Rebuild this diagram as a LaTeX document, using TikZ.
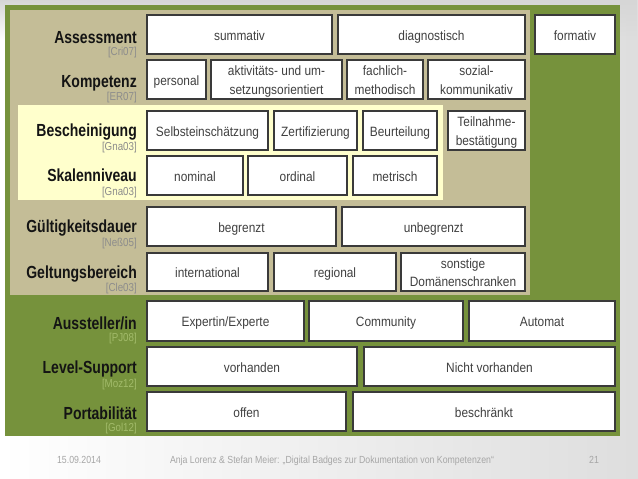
\documentclass[tikz,border=0pt]{standalone}
\usepackage{fontspec}
\usetikzlibrary{fadings}
\setmainfont{Liberation Sans}[FakeStretch=0.88]
\newfontfamily\labfont{Liberation Sans}[FakeStretch=0.8]
\newfontfamily\citefont{Liberation Sans}[FakeStretch=0.85]
\definecolor{olive}{HTML}{76923C}
\definecolor{khaki}{HTML}{C4BD97}
\definecolor{paleyellow}{HTML}{FFFFCC}
\definecolor{boxline}{HTML}{3A3A3A}
\definecolor{citegreen}{HTML}{A2BB6A}
\newcommand\boxstrut{\rule[-3.2pt]{0pt}{17.4pt}}
\newcommand\bx[6]{\node[box, minimum width={#4-#2-1.6}, minimum height={#5-#3-1.6}] (#1) at ({(#2+#4)/2},{(#3+#5)/2}) {\boxstrut#6\boxstrut};}
\newcommand\lab[3]{\node[lbl, anchor=base east] (l#1) at (137,#3) {#2};}
\newcommand\cit[3]{\node[citetext, anchor=base east] (c#1) at (137,#3) {#2};}
\newcommand\citg[3]{\node[citetext, text=citegreen, anchor=base east] (c#1) at (137,#3) {#2};}
\begin{document}
\begin{tikzpicture}[x=1pt,y=-1pt,
  box/.style={draw=boxline, line width=1.6pt, fill=white, inner sep=0pt, align=center,
    font=\fontsize{13.5}{17}\selectfont, text=black!75},
  lbl/.style={inner sep=0pt, font=\labfont\bfseries\fontsize{17.5}{20}\selectfont, text=black!92},
  citetext/.style={inner sep=0pt, font=\citefont\fontsize{11.5}{13}\selectfont, text=black!45},
  foot/.style={inner sep=0pt, anchor=base, font=\citefont\fontsize{10.3}{12}\selectfont, text=black!35}]
% background
\useasboundingbox (0,0) rectangle (638,479);
\shade[left color=white, right color=black!13] (0,0) rectangle (638,479);
\fill[black!16, path fading=south] (0,0) rectangle (638,40);
% panels
\fill[olive] (5,5) rectangle (620,436);
\fill[khaki] (10,10) rectangle (530,295);
\fill[paleyellow] (18,105) rectangle (443,200);
% labels
\lab{ass}{Assessment}{43}\cit{ass}{[Cri07]}{55}
\lab{kom}{Kompetenz}{87}\cit{kom}{[ER07]}{100}
\lab{bes}{Bescheinigung}{136}\cit{bes}{[Gna03]}{150}
\lab{ska}{Skalenniveau}{181}\cit{ska}{[Gna03]}{195}
\lab{gue}{Gültigkeitsdauer}{232}\cit{gue}{[Neß05]}{246}
\lab{gel}{Geltungsbereich}{278}\cit{gel}{[Cle03]}{291}
\lab{aus}{Aussteller/in}{329}\citg{aus}{[PJ08]}{341}
\lab{lev}{Level-Support}{373}\citg{lev}{[Moz12]}{387}
\lab{por}{Portabilität}{419}\citg{por}{[Gol12]}{431}
% row 1
\bx{summ}{146}{14}{333}{55}{summativ}
\bx{diag}{337}{14}{526}{55}{diagnostisch}
\bx{form}{534}{14}{616}{55}{formativ}
% row 2
\bx{pers}{146}{59}{207}{100}{personal}
\bx{akti}{210}{59}{343}{100}{aktivitäts- und um-\\setzungsorientiert}
\bx{fach}{346}{59}{424}{100}{fachlich-\\methodisch}
\bx{sozi}{427}{59}{526}{100}{sozial-\\kommunikativ}
% row 3
\bx{selb}{146}{110}{269}{151}{Selbsteinschätzung}
\bx{zert}{273}{110}{358}{151}{Zertifizierung}
\bx{beur}{362}{110}{438}{151}{Beurteilung}
\bx{teil}{447}{110}{526}{151}{Teilnahme-\\bestätigung}
% row 4
\bx{nomi}{146}{155}{244}{196}{nominal}
\bx{ordi}{247}{155}{348}{196}{ordinal}
\bx{metr}{352}{155}{438}{196}{metrisch}
% row 5
\bx{begr}{146}{206}{337}{247}{begrenzt}
\bx{unbe}{341}{206}{526}{247}{unbegrenzt}
% row 6
\bx{inte}{146}{252}{269}{292}{international}
\bx{regi}{273}{252}{397}{292}{regional}
\bx{sons}{400}{252}{526}{292}{sonstige\\Domänenschranken}
% row 7
\bx{expe}{146}{300}{305}{342}{Expertin/Experte}
\bx{comm}{308}{300}{464}{342}{Community}
\bx{auto}{468}{300}{616}{342}{Automat}
% row 8
\bx{vorh}{146}{346}{358}{387}{vorhanden}
\bx{nich}{363}{346}{616}{387}{Nicht vorhanden}
% row 9
\bx{offe}{146}{391}{347}{432}{offen}
\bx{besc}{352}{391}{616}{432}{beschränkt}
% footer
\node[foot] (fdate) at (79,463) {15.09.2014};
\node[foot] (ftitle) at (332,463) {Anja Lorenz \& Stefan Meier: „Digital Badges zur Dokumentation von Kompetenzen“};
\node[foot] (fpage) at (594,463) {21};
\end{tikzpicture}
\end{document}
